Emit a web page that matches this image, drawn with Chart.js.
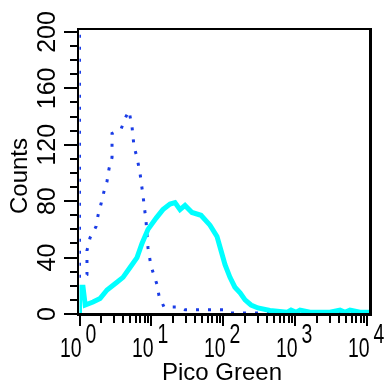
<!DOCTYPE html>
<html>
<head>
<meta charset="utf-8">
<script src="https://cdn.jsdelivr.net/npm/chart.js@4.4.0/dist/chart.umd.min.js"></script>
<style>
  html, body { margin: 0; padding: 0; background: #fff; }
  #wrap { width: 386px; height: 391px; }
</style>
</head>
<body>
<div id="wrap"><canvas id="grafica" width="386" height="391"></canvas></div>
<script>
// Histograma Pico Green (canal log) - cian = muestra, puntos azules = control
const greenX = [1, 1, 1.12, 1.2, 1.54, 1.93, 2.41, 3.21, 4.02, 5.03, 6.29, 7.38, 8.94, 11.6, 14.4, 18.1, 21.2, 24.9, 29.2, 36.5, 48.7, 64.9, 81.2, 92.3, 105, 123, 144, 170, 199, 241, 301, 442, 762, 866, 1016, 1155, 1590, 3014, 4151, 4870, 5714, 7867, 10800];
const greenCounts = [0, 19, 19, 6.4, 8.5, 11, 17, 22, 26, 33, 40, 50, 60, 68, 74, 78, 79, 74, 77, 72, 70, 63, 55, 45, 35, 26, 19, 15, 10, 6.4, 4.3, 2.5, 1.2, 2.8, 1.2, 2.8, 1.2, 1.2, 2.8, 1.2, 2.8, 1.2, 1.2];

const dotX = [1, 1, 1.27, 1.27, 1.4, 1.7, 1.81, 1.99, 2.19, 2.41, 2.57, 2.83, 2.83, 3.77, 4.42, 4.87, 5.36, 5.71, 6.29, 6.92, 7.62, 8.39, 8.94, 9.84, 11.9, 12.7, 14.9, 24.9, 29.2, 105, 123, 10800];
const dotCounts = [215, 25, 28, 45, 54, 62, 70, 78, 87, 94, 103, 111, 128, 131, 140, 144, 133, 119, 111, 100, 84, 66, 47, 34, 21, 13, 5, 5, 3, 3, 0.7, 0.7];

const countTicks = [0, 40, 80, 120, 160, 200];
const decadeExp = ['0', '1', '2', '3', '4'];

const toPoints = (xs, ys) => xs.map((x, i) => ({ x: x, y: ys[i] }));

// dibuja marco, marcas y etiquetas a partir de las escalas
const ejes = {
    id: 'ejes',
    afterDraw(chart) {
        const ctx = chart.ctx;
        const xs = chart.scales.x;
        const ys = chart.scales.y;
        ctx.save();
        ctx.fillStyle = '#000';

        // marco
        ctx.fillRect(77, 28, 295, 2);
        ctx.fillRect(369, 28, 3, 288);
        ctx.fillRect(77, 28, 2, 288);
        ctx.fillRect(77, 313, 295, 3);

        // marcas eje y
        for (let v = 0; v <= 200; v += 10) {
            const y = Math.round(ys.getPixelForValue(v));
            if (v % 40 === 0) ctx.fillRect(64, y - 1, 13, 2);
            else ctx.fillRect(70, y - 1, 7, 2);
        }
        // marcas eje x
        for (let d = 0; d < decadeExp.length; d++) {
            const base = Math.pow(10, d);
            const xm = Math.round(xs.getPixelForValue(base));
            ctx.fillRect(xm - 1, 316, 2, 10);
            if (d < decadeExp.length - 1) {
                for (let m = 2; m <= 9; m++) {
                    const x = Math.round(xs.getPixelForValue(base * m));
                    ctx.fillRect(x - 1, 316, 2, 7);
                }
            }
        }

        // etiquetas eje y (rotadas)
        ctx.font = '25px "Liberation Sans", Arial, sans-serif';
        ctx.textAlign = 'center';
        ctx.textBaseline = 'alphabetic';
        countTicks.forEach(v => {
            ctx.save();
            ctx.translate(55, ys.getPixelForValue(v));
            ctx.rotate(-Math.PI / 2);
            ctx.fillText(String(v), 0, 0);
            ctx.restore();
        });

        // etiquetas eje x: 10 con exponente
        ctx.font = '27px "Liberation Sans", Arial, sans-serif';
        decadeExp.forEach((e, d) => {
            const x = xs.getPixelForValue(Math.pow(10, d));
            ctx.save();
            ctx.translate(x + 2, 357);
            ctx.scale(0.72, 1);
            ctx.textAlign = 'right';
            ctx.fillText('10', 0, 0);
            ctx.restore();
            ctx.save();
            ctx.translate(x + 6, 343);
            ctx.scale(0.72, 1);
            ctx.textAlign = 'left';
            ctx.fillText(e, 0, 0);
            ctx.restore();
        });

        // titulos
        ctx.font = '24px "Liberation Sans", Arial, sans-serif';
        ctx.textAlign = 'center';
        ctx.fillText('Pico Green', 222, 380);
        ctx.save();
        ctx.translate(27, 176);
        ctx.rotate(-Math.PI / 2);
        ctx.fillText('Counts', 0, 0);
        ctx.restore();

        ctx.restore();
    }
};

const $grafica = document.querySelector('#grafica');

new Chart($grafica, {
    type: 'line',
    data: {
        datasets: [
            {
                label: 'Pico Green',
                data: toPoints(greenX, greenCounts),
                borderColor: '#00ffff',
                borderWidth: 5,
                borderJoinStyle: 'miter',
                pointRadius: 0,
                fill: false,
                order: 0
            },
            {
                label: 'Control',
                data: toPoints(dotX, dotCounts),
                borderColor: '#1a3ce6',
                borderWidth: 3,
                borderDash: [3, 9],
                borderCapStyle: 'butt',
                pointRadius: 0,
                fill: false,
                tension: 0,
                order: 1
            }
        ]
    },
    options: {
        responsive: false,
        animation: false,
        layout: { padding: { left: 79.5, right: 15.5, top: 29, bottom: 77 } },
        plugins: { legend: { display: false }, tooltip: { enabled: false } },
        scales: {
            x: { type: 'logarithmic', min: 1, max: 11007, display: false },
            y: { type: 'linear', min: 0, max: 202.1, display: false }
        }
    },
    plugins: [ejes]
});
</script>
</body>
</html>
